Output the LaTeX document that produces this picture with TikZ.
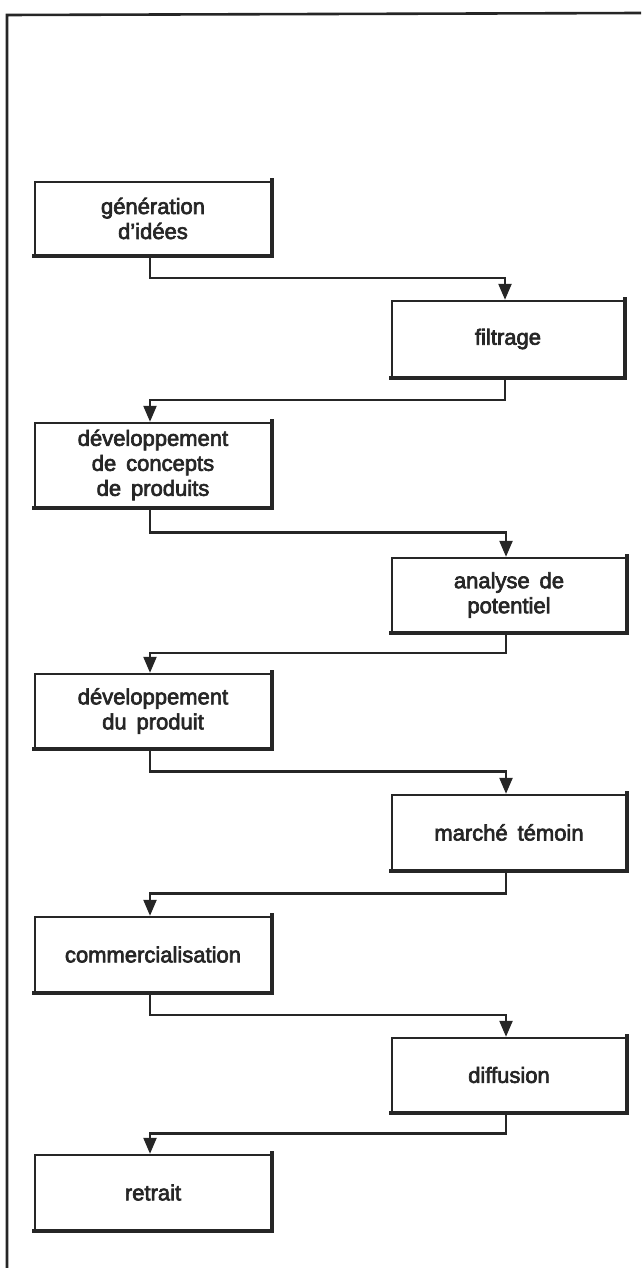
\documentclass[tikz,border=0pt]{standalone}
\usepackage{fontspec}
\setmainfont{Liberation Sans}
\newfontfamily\boxfont[FakeBold=3]{Liberation Sans}
\usetikzlibrary{arrows.meta,calc}
\definecolor{ink}{HTML}{262626}
\newcommand{\ws}{\hspace{0.45em}}
\begin{document}
\begin{tikzpicture}[x=1pt,y=-1pt,
  stepbox/.style={draw=ink,line width=2.4pt,rectangle,minimum width=236pt,align=center,
    font=\boxfont\fontsize{22}{25}\selectfont,text=ink,inner sep=0pt},
  conn/.style={draw=ink,line width=2.3pt,-{Triangle[width=13pt,length=16pt]}},
  shade/.style={draw=ink,line width=4.5pt,line cap=rect},
  frame/.style={draw=ink,line width=2.6pt}]
\useasboundingbox (0,0) rectangle (641,1268);
% frame
\coordinate (ftl) at (7,15);
\coordinate (ftr) at (641,13);
\coordinate (fbl) at (7,1268);
\draw[frame] (ftr) -- (ftl) -- (fbl);
% boxes
\node[stepbox,minimum height=73pt] (b1) at (153,218.5) {génération\\d’idées};
\node[stepbox,minimum width=232pt,minimum height=76pt] (b2) at (508,339) {filtrage};
\node[stepbox,minimum height=84pt] (b3) at (153,465) {développement\\de\ws concepts\\de\ws produits};
\node[stepbox,minimum width=234pt,minimum height=74pt] (b4) at (509,595) {analyse\ws de\\potentiel};
\node[stepbox,minimum height=74pt] (b5) at (153,711) {développement\\du\ws produit};
\node[stepbox,minimum width=234pt,minimum height=75pt] (b6) at (509,832.5) {marché\ws témoin};
\node[stepbox,minimum height=75pt] (b7) at (153,954.5) {commercialisation};
\node[stepbox,minimum width=234pt,minimum height=74pt] (b8) at (509,1075) {diffusion};
\node[stepbox,minimum height=75pt] (b9) at (153,1192.5) {retrait};
% heavier right and bottom edges
\foreach \n in {b1,b2,b3,b4,b5,b6,b7,b8,b9}{
  \draw[shade] ([yshift=1pt]\n.north east) -- (\n.south east) -- (\n.south west);
}
% connectors
\draw[conn] ([xshift=-3pt]b1.south) |- ($(b1.south)!.5!(b2.north)$) -| ([xshift=-3pt]b2.north);
\draw[conn] ([xshift=-3pt]b2.south) |- ($(b2.south)!.5!(b3.north)$) -| ([xshift=-3pt]b3.north);
\draw[conn] ([xshift=-3pt]b3.south) |- ($(b3.south)!.5!(b4.north)$) -| ([xshift=-3pt]b4.north);
\draw[conn] ([xshift=-3pt]b4.south) |- ($(b4.south)!.5!(b5.north)$) -| ([xshift=-3pt]b5.north);
\draw[conn] ([xshift=-3pt]b5.south) |- ($(b5.south)!.5!(b6.north)$) -| ([xshift=-3pt]b6.north);
\draw[conn] ([xshift=-3pt]b6.south) |- ($(b6.south)!.5!(b7.north)$) -| ([xshift=-3pt]b7.north);
\draw[conn] ([xshift=-3pt]b7.south) |- ($(b7.south)!.5!(b8.north)$) -| ([xshift=-3pt]b8.north);
\draw[conn] ([xshift=-3pt]b8.south) |- ($(b8.south)!.5!(b9.north)$) -| ([xshift=-3pt]b9.north);
\end{tikzpicture}
\end{document}
